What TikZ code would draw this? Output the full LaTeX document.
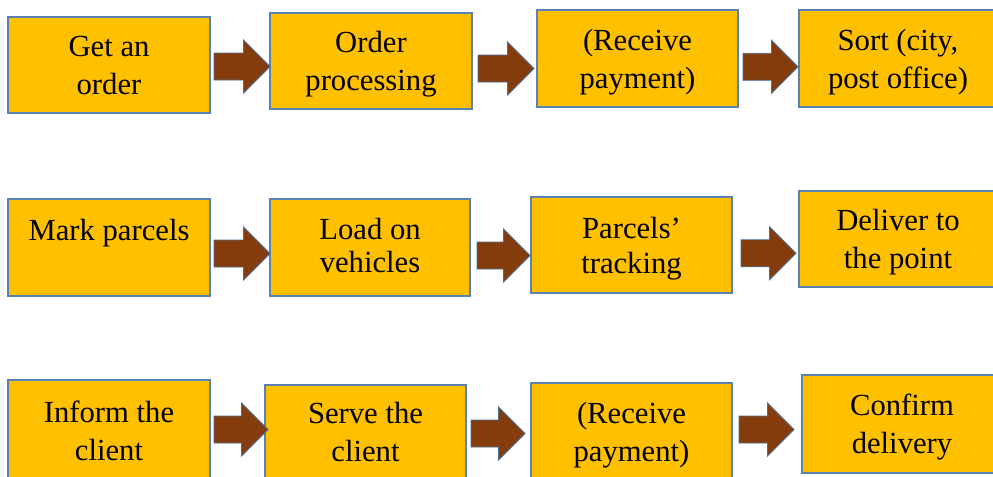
\documentclass[tikz,border=0pt]{standalone}
\usepackage{fontspec}
\setmainfont{Liberation Serif}
\newfontfamily\boxface{Liberation Serif}
\usetikzlibrary{calc}
\definecolor{boxfill}{HTML}{FFC000}
\definecolor{boxline}{HTML}{5A82B0}
\definecolor{arrfill}{HTML}{843C0C}
\definecolor{arrline}{HTML}{4A6E96}
\tikzset{
  box/.style={draw=boxline, fill=boxfill, line width=1.1pt, rectangle, inner sep=0pt, outer sep=0pt},
  txt/.style={anchor=north, align=center, inner sep=0pt, text=black, font=\boxface\fontsize{23}{29}\selectfont},
  barr/.style={fill=arrfill, draw=arrline, line width=0.6pt, line join=miter}
}
% box: name, x1, y1, x2, y2 (pixels)
\newcommand\mybox[5]{\node[box, minimum width={(#4-#2)*0.75pt}, minimum height={(#5-#3)*0.75pt}] (#1) at ({(#2+#4)/2},{(#3+#5)/2}) {};}
% text: name, box, offset below box top, text
\newcommand\mytext[4]{\node[txt] (#1) at ($(#2.north)+(0,#3)$) {#4};}
% block arrow: from, to, y, tail gap, tip shift
\newcommand\myarrow[5]{%
  \coordinate (ay) at (0,#3);
  \coordinate (tl) at ($(#1.east |- ay)+(#4,0)$);
  \coordinate (tp) at ($(#2.west |- ay)+(#5,0)$);
  \path[barr] ($(tl)+(0,-13.5)$) -- ($(tp)+(-26.5,-13.5)$) -- ($(tp)+(-26.5,-26.5)$) -- (tp)
    -- ($(tp)+(-26.5,26.5)$) -- ($(tp)+(-26.5,13.5)$) -- ($(tl)+(0,13.5)$) -- cycle;}
\begin{document}
\begin{tikzpicture}[x=0.75pt, y=-0.75pt]
\useasboundingbox (0,0) rectangle (993,476);
\clip (0,0) rectangle (993,476);
% row 1
\mybox{b1}{8}{17}{210}{113}
\mybox{b2}{270}{13}{472}{109}
\mybox{b3}{537}{10}{738}{107}
\mybox{b4}{799}{10}{997}{107}
\mytext{t1}{b1}{11.9}{\strut Get an\\order}
\mytext{t2}{b2}{11.9}{\strut Order\\processing}
\mytext{t3}{b3}{12.9}{\strut (Receive\\payment)}
\mytext{t4}{b4}{12.9}{\strut Sort (city,\\post office)}
\myarrow{b1}{b2}{66.5}{4}{0}
\myarrow{b2}{b3}{68.5}{6}{-3}
\myarrow{b3}{b4}{66.8}{5}{-1}
% row 2
\mybox{b5}{8}{199}{210}{296}
\mybox{b6}{270}{199}{470}{296}
\mybox{b7}{531}{197}{732}{293}
\mybox{b8}{799}{191}{997}{287}
\mytext{t5}{b5}{13.9}{\strut Mark parcels}
\mytext{t6}{b6}{12.9}{\strut Load on\\[-4.25pt]vehicles}
\mytext{t7}{b7}{13.9}{\strut Parcels’\\[-2.75pt]tracking}
\mytext{t8}{b8}{11.9}{\strut Deliver to\\the point}
\myarrow{b5}{b6}{253.5}{4}{0}
\myarrow{b6}{b7}{255.5}{7}{-1}
\myarrow{b7}{b8}{253.3}{9}{-3}
% row 3
\mybox{b9}{8}{380}{210}{484}
\mybox{b10}{265}{385}{466}{484}
\mybox{b11}{531}{383}{732}{484}
\mybox{b12}{802}{375}{1002}{473}
\mytext{t9}{b9}{14.9}{\strut Inform the\\client}
\mytext{t10}{b10}{10.9}{\strut Serve the\\client}
\mytext{t11}{b11}{12.9}{\strut (Receive\\payment)}
\mytext{t12}{b12}{12.9}{\strut Confirm\\delivery}
\myarrow{b9}{b10}{429.5}{4}{3}
\myarrow{b10}{b11}{433.5}{5}{-6}
\myarrow{b11}{b12}{429.5}{7}{-8}
\end{tikzpicture}
\end{document}
